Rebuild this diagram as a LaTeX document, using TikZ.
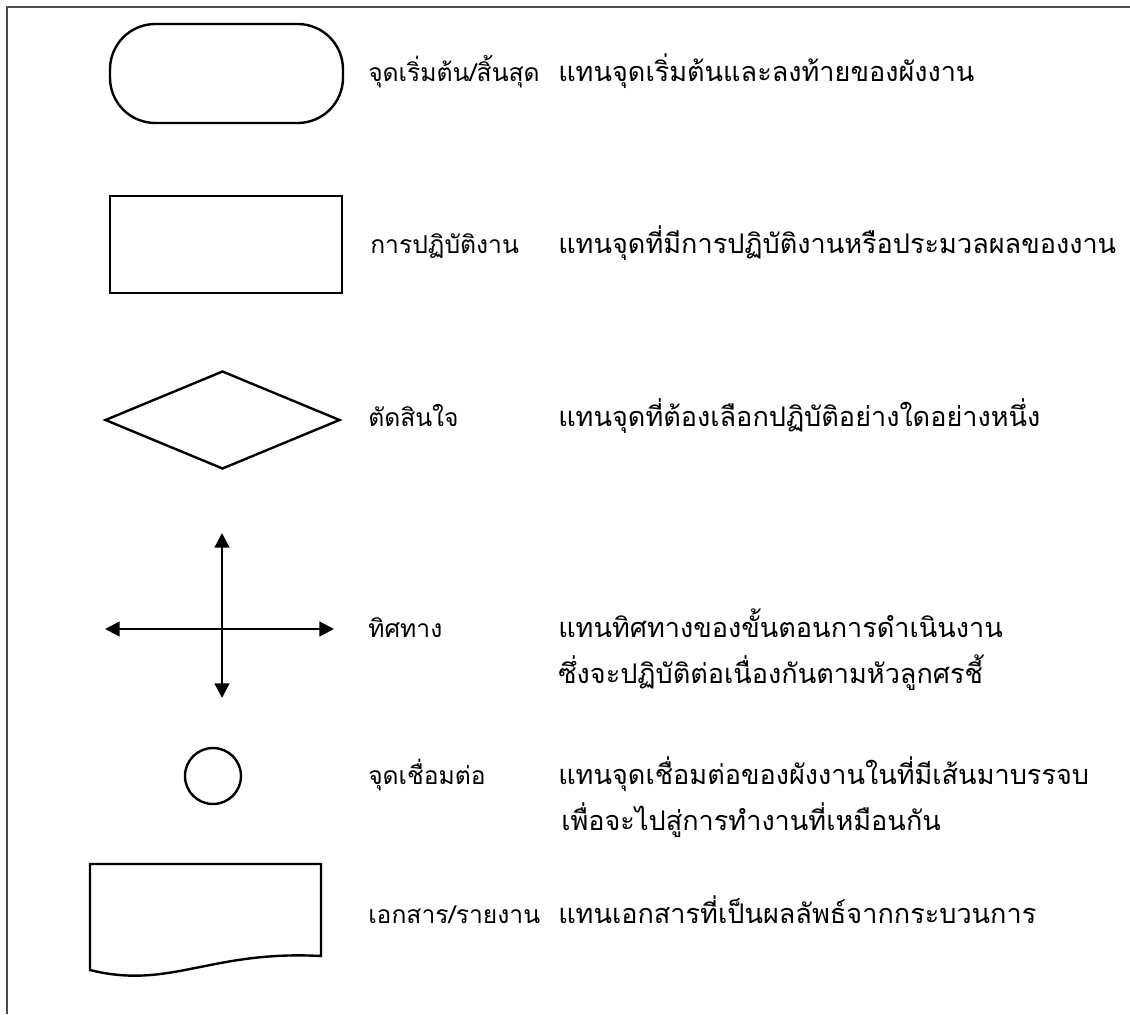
\documentclass[tikz,border=0pt]{standalone}
\usepackage{fontspec}
\newfontfamily\thaifont[Script=Thai]{Loma}
\usetikzlibrary{shapes.geometric,arrows.meta}

\begin{document}
\begin{tikzpicture}
[x=0.75pt,y=-0.75pt,
% Symbol style
	symbolbox/.style={
		draw,
		line width=1.8pt,
		inner sep=0pt},
% Symbol name style
	symname/.style={
		anchor=base west,
		inner sep=0pt,
		font=\thaifont\fontsize{18.5}{24}\selectfont},
% Meaning style
	meaning/.style={
		symname,
		font=\thaifont\fontsize{20.3}{26}\selectfont},
% Arrow style
	flowarrow/.style={
		line width=1.8pt,
		{Triangle[length=11pt,width=11pt]}-{Triangle[length=11pt,width=11pt]}},
]

\useasboundingbox (0,0) rectangle (1130,1014);

% Frame
\draw [black!70, line width=0.8pt] (7,1014) |- (1130,7);

% Symbols
\node[symbolbox, rounded corners=34pt,
	minimum width=174.75pt, minimum height=74.25pt] (terminal) at (226.5,73.5) {};

\node[symbolbox, rectangle,
	minimum width=174pt, minimum height=72.75pt] (process) at (226,244.5) {};

\node[symbolbox, diamond,
	minimum width=176.25pt, minimum height=73.5pt] (decision) at (222.5,420) {};

\coordinate (centre) at (222,629);
\coordinate (west) at (105,629);
\coordinate (east) at (334,629);
\coordinate (north) at (222,533);
\coordinate (south) at (222,698);
\draw [flowarrow] (west) -- (east);
\draw [flowarrow] (north) -- (south);

\node[symbolbox, circle,
	minimum size=42pt] (connector) at (213,776) {};

% Document shape
\draw [line width=1.8pt, line join=miter]
	(90,970) -- (90,864) -- (321,864) -- (321,956)
	.. controls (210,950) and (170,990) .. (90,970) -- cycle;

% Names
\node[symname] (terminal-name)  at (368,81)  {จุดเริ่มต้น/สิ้นสุด};
\node[symname] (process-name)   at (370,253) {การปฏิบัติงาน};
\node[symname] (decision-name)  at (368,426) {ตัดสินใจ};
\node[symname] (flow-name)      at (368,637) {ทิศทาง};
\node[symname] (connector-name) at (368,784) {จุดเชื่อมต่อ};
\node[symname] (document-name)  at (368,923) {เอกสาร/รายงาน};

% Meanings
\node[meaning] (terminal-text)  at (558,81)  {แทนจุดเริ่มต้นและลงท้ายของผังงาน};
\node[meaning] (process-text)   at (558,253) {แทนจุดที่มีการปฏิบัติงานหรือประมวลผลของงาน};
\node[meaning] (decision-text)  at (558,426) {แทนจุดที่ต้องเลือกปฏิบัติอย่างใดอย่างหนึ่ง};
\node[meaning] (flow-text)      at (558,637) {แทนทิศทางของขั้นตอนการดำเนินงาน};
\node[meaning] (flow-text2)     at (558,683) {ซึ่งจะปฏิบัติต่อเนื่องกันตามหัวลูกศรชี้};
\node[meaning] (connector-text) at (558,784) {แทนจุดเชื่อมต่อของผังงานในที่มีเส้นมาบรรจบ};
\node[meaning] (connector-text2) at (561,830) {เพื่อจะไปสู่การทำงานที่เหมือนกัน};
\node[meaning] (document-text)  at (558,923) {แทนเอกสารที่เป็นผลลัพธ์จากกระบวนการ};

\end{tikzpicture}
\end{document}
